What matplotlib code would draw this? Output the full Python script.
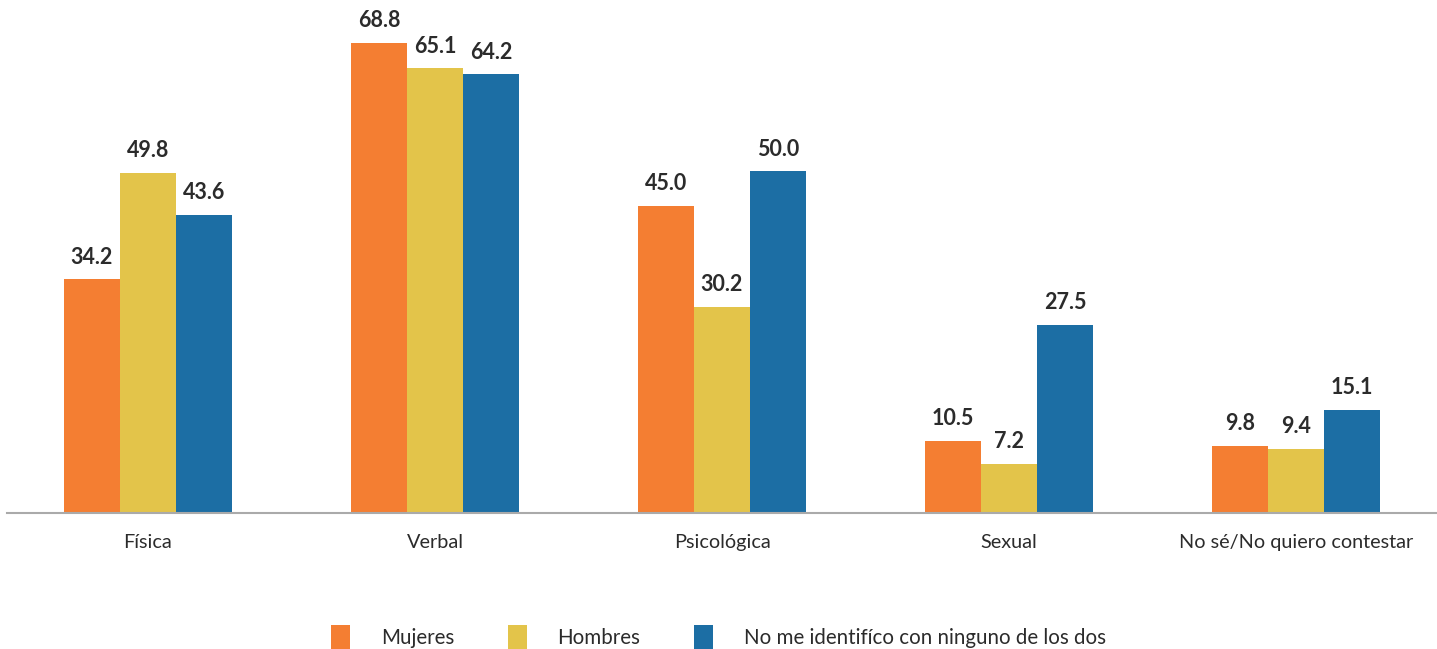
import matplotlib.pyplot as plt
import numpy as np

plt.rcParams['font.family'] = ['Lato', 'DejaVu Sans']

categorias = ['Física', 'Verbal', 'Psicológica', 'Sexual', 'No sé/No quiero contestar']
mujeres = [34.2, 68.8, 45.0, 10.5, 9.8]
hombres = [49.8, 65.1, 30.2, 7.2, 9.4]
ninguno = [43.6, 64.2, 50.0, 27.5, 15.1]
series = ['Mujeres', 'Hombres', 'No me identifíco con ninguno de los dos']
colores = ['#F47E32', '#E3C44A', '#1C6EA4']

fig = plt.figure(figsize=(14.37, 6.49), dpi=100)
ax = fig.add_axes([7 / 1437, (649 - 513) / 649, 1430 / 1437, 513 / 649])

x = np.arange(len(categorias))
w = 56 / 287
bars = []
for i, (vals, nombre, c) in enumerate(zip([mujeres, hombres, ninguno], series, colores)):
    b = ax.bar(x + (i - 1) * w, vals, w, color=c, label=nombre)
    bars.append(b)
    for xi, v in zip(x + (i - 1) * w, vals):
        ax.annotate(f'{v:.1f}', (xi, v), xytext=(0, 8.5), textcoords='offset points',
                    ha='center', va='bottom', fontsize=15.5, fontweight='bold', color='#2b2b2b')

ax.set_xlim(-0.491, 4.491)
ax.set_ylim(0, 75.1)
ax.set_yticks([])
ax.set_xticks(x)
ax.set_xticklabels(categorias, fontsize=14.3, color='#2b2b2b')
ax.tick_params(axis='x', length=0, pad=15)
for s in ['top', 'right', 'left']:
    ax.spines[s].set_visible(False)
ax.spines['bottom'].set_color('#aaaaaa')
ax.spines['bottom'].set_linewidth(1.5)

fig.legend(handles=bars, labels=series, loc='center left', bbox_to_anchor=(321 / 1437, 1 - 637 / 649),
           ncol=3, frameon=False, fontsize=14.8, borderpad=0, handlelength=0.92, handleheight=1.4,
           handletextpad=1.5, columnspacing=2.6, labelcolor='#2b2b2b')

fig.savefig('out.png', dpi=100)
